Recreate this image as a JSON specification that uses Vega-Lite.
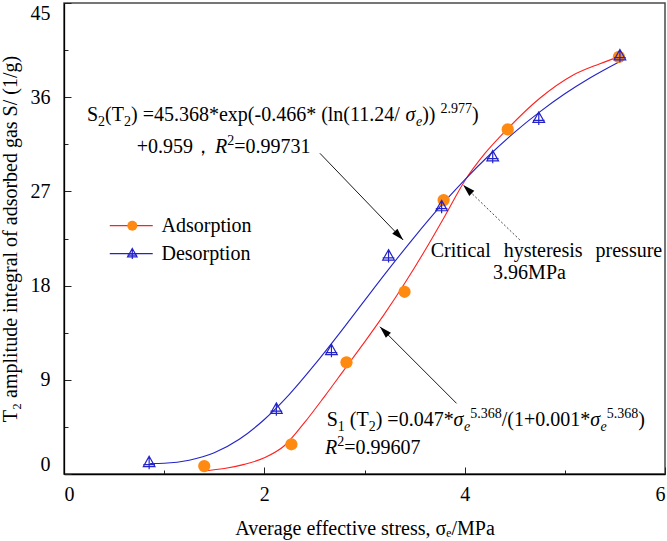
{
  "$schema": "https://vega.github.io/schema/vega-lite/v6.json",
  "width": 601,
  "height": 471,
  "autosize": "none",
  "padding": {"left": 64, "top": 3, "right": 2, "bottom": 67},
  "background": "white",
  "config": {
    "font": "Liberation Serif",
    "view": {"stroke": "#4a4a4a", "strokeWidth": 1.5},
    "axis": {
      "grid": false,
      "domainColor": "#000000",
      "domainWidth": 1.3,
      "tickColor": "#222222",
      "tickWidth": 1,
      "labelFont": "Liberation Serif",
      "labelFontSize": 20,
      "labelColor": "#000000",
      "labelOverlap": false,
      "labelFlush": true,
      "titleFont": "Liberation Serif",
      "titleFontSize": 20,
      "titleFontWeight": "normal",
      "titleColor": "#000000"
    },
    "legend": {
      "labelFont": "Liberation Serif",
      "labelFontSize": 20,
      "labelColor": "#000000",
      "padding": 0,
      "rowPadding": 8
    }
  },
  "datasets": {
    "curves": [
      {"series": "Adsorption", "stress": 1.40, "S": 0.30},
      {"series": "Adsorption", "stress": 1.60, "S": 0.52},
      {"series": "Adsorption", "stress": 1.80, "S": 0.92},
      {"series": "Adsorption", "stress": 2.00, "S": 1.55},
      {"series": "Adsorption", "stress": 2.20, "S": 2.7},
      {"series": "Adsorption", "stress": 2.40, "S": 4.9},
      {"series": "Adsorption", "stress": 2.60, "S": 7.4},
      {"series": "Adsorption", "stress": 2.80, "S": 10.0},
      {"series": "Adsorption", "stress": 3.00, "S": 12.6},
      {"series": "Adsorption", "stress": 3.20, "S": 15.3},
      {"series": "Adsorption", "stress": 3.40, "S": 18.2},
      {"series": "Adsorption", "stress": 3.60, "S": 21.3},
      {"series": "Adsorption", "stress": 3.80, "S": 24.6},
      {"series": "Adsorption", "stress": 4.00, "S": 28.0},
      {"series": "Adsorption", "stress": 4.20, "S": 30.6},
      {"series": "Adsorption", "stress": 4.43, "S": 33.0},
      {"series": "Adsorption", "stress": 4.75, "S": 35.9},
      {"series": "Adsorption", "stress": 5.08, "S": 38.1},
      {"series": "Adsorption", "stress": 5.35, "S": 39.2},
      {"series": "Adsorption", "stress": 5.55, "S": 39.9},
      {"series": "Desorption", "stress": 0.86, "S": 1.00},
      {"series": "Desorption", "stress": 1.00, "S": 1.03},
      {"series": "Desorption", "stress": 1.25, "S": 1.32},
      {"series": "Desorption", "stress": 1.50, "S": 2.03},
      {"series": "Desorption", "stress": 1.75, "S": 3.32},
      {"series": "Desorption", "stress": 2.00, "S": 5.21},
      {"series": "Desorption", "stress": 2.25, "S": 7.61},
      {"series": "Desorption", "stress": 2.50, "S": 10.42},
      {"series": "Desorption", "stress": 2.75, "S": 13.44},
      {"series": "Desorption", "stress": 3.00, "S": 16.57},
      {"series": "Desorption", "stress": 3.25, "S": 19.67},
      {"series": "Desorption", "stress": 3.50, "S": 22.66},
      {"series": "Desorption", "stress": 3.75, "S": 25.49},
      {"series": "Desorption", "stress": 4.00, "S": 28.11},
      {"series": "Desorption", "stress": 4.25, "S": 30.50},
      {"series": "Desorption", "stress": 4.50, "S": 32.67},
      {"series": "Desorption", "stress": 4.75, "S": 34.60},
      {"series": "Desorption", "stress": 5.00, "S": 36.33},
      {"series": "Desorption", "stress": 5.25, "S": 37.84},
      {"series": "Desorption", "stress": 5.55, "S": 39.42}
    ],
    "points": [
      {"series": "Adsorption", "stress": 1.40, "S": 0.76},
      {"series": "Adsorption", "stress": 2.27, "S": 2.84},
      {"series": "Adsorption", "stress": 2.82, "S": 10.67},
      {"series": "Adsorption", "stress": 3.40, "S": 17.41},
      {"series": "Adsorption", "stress": 3.79, "S": 26.17},
      {"series": "Adsorption", "stress": 4.43, "S": 32.92},
      {"series": "Adsorption", "stress": 5.54, "S": 39.86},
      {"series": "Desorption", "stress": 0.85, "S": 1.08},
      {"series": "Desorption", "stress": 2.12, "S": 6.18},
      {"series": "Desorption", "stress": 2.67, "S": 11.78},
      {"series": "Desorption", "stress": 3.24, "S": 20.82},
      {"series": "Desorption", "stress": 3.77, "S": 25.53},
      {"series": "Desorption", "stress": 4.28, "S": 30.30},
      {"series": "Desorption", "stress": 4.74, "S": 33.97},
      {"series": "Desorption", "stress": 5.55, "S": 39.95}
    ],
    "notes": [
      {"t": "S", "kind": "n", "x": 0.2296, "y": 33.73},
      {"t": "2", "kind": "sub", "x": 0.3404, "y": 33.73},
      {"t": "(T", "kind": "n", "x": 0.4103, "y": 33.73},
      {"t": "2", "kind": "sub", "x": 0.5990, "y": 33.73},
      {"t": ") =45.368*exp(-0.466* (ln(11.24/", "kind": "n", "x": 0.6689, "y": 33.73},
      {"t": "σ", "kind": "i", "x": 3.4103, "y": 33.73},
      {"t": "e", "kind": "isub", "x": 3.5141, "y": 33.73},
      {"t": "))", "kind": "n", "x": 3.5760, "y": 33.73},
      {"t": "2.977", "kind": "sup", "x": 3.7587, "y": 33.73},
      {"t": ")", "kind": "n", "x": 4.0732, "y": 33.73},
      {"t": "+0.959，", "kind": "n", "x": 0.7258, "y": 30.67},
      {"t": "R", "kind": "i", "x": 1.5075, "y": 30.67},
      {"t": "2", "kind": "sup", "x": 1.6293, "y": 30.67},
      {"t": "=0.99731", "kind": "n", "x": 1.6992, "y": 30.67},
      {"t": "S", "kind": "n", "x": 2.6226, "y": 4.54},
      {"t": "1", "kind": "sub", "x": 2.7334, "y": 4.54},
      {"t": "(T", "kind": "n", "x": 2.8532, "y": 4.54},
      {"t": "2", "kind": "sub", "x": 3.0419, "y": 4.54},
      {"t": ") =0.047*", "kind": "n", "x": 3.1118, "y": 4.54},
      {"t": "σ", "kind": "i", "x": 3.8895, "y": 4.54},
      {"t": "e", "kind": "isub", "x": 3.9933, "y": 4.54},
      {"t": "5.368", "kind": "sup", "x": 4.0552, "y": 4.54},
      {"t": "/(1+0.001*", "kind": "n", "x": 4.3697, "y": 4.54},
      {"t": "σ", "kind": "i", "x": 5.2532, "y": 4.54},
      {"t": "e", "kind": "isub", "x": 5.3570, "y": 4.54},
      {"t": "5.368", "kind": "sup", "x": 5.4189, "y": 4.54},
      {"t": ")", "kind": "n", "x": 5.7334, "y": 4.54},
      {"t": "R", "kind": "i", "x": 2.6055, "y": 1.91},
      {"t": "2", "kind": "sup", "x": 2.7273, "y": 1.91},
      {"t": "=0.99607", "kind": "n", "x": 2.7972, "y": 1.91},
      {"t": "Critical \u2009\u2009hysteresis \u2009\u2009pressure", "kind": "n", "x": 3.661, "y": 20.73},
      {"t": "3.96MPa", "kind": "n", "x": 4.284, "y": 18.63}
    ],
    "arrows": [
      {"id": "fit2", "x1": 2.555, "y1": 30.64, "x2": 3.386, "y2": 22.36},
      {"id": "fit1", "x1": 3.919, "y1": 6.75, "x2": 3.154, "y2": 14.07},
      {"id": "cross", "x1": 4.551, "y1": 22.36, "x2": 3.985, "y2": 27.61}
    ]
  },
  "layer": [
    {
      "data": {"name": "curves"},
      "mark": {"type": "line", "interpolate": "monotone", "strokeWidth": 1.1},
      "encoding": {
        "x": {
          "field": "stress",
          "type": "quantitative",
          "scale": {"domain": [0, 6], "nice": false},
          "axis": {
            "values": [0, 1, 2, 3, 4, 5, 6],
            "labelExpr": "datum.value % 2 === 0 ? format(datum.value, 'd') : ''",
            "tickSize": {"condition": {"test": "datum.value % 2 === 0", "value": -7}, "value": -4},
            "labelPadding": 17,
            "title": "Average effective stress, σₑ/MPa",
            "titleY": 60,
            "titleBaseline": "alphabetic"
          }
        },
        "y": {
          "field": "S",
          "type": "quantitative",
          "scale": {"domain": [0, 45], "nice": false},
          "axis": {
            "values": [0, 4.5, 9, 13.5, 18, 22.5, 27, 31.5, 36, 40.5, 45],
            "labelExpr": "datum.value % 9 === 0 ? format(datum.value, 'd') : ''",
            "tickSize": {"condition": {"test": "datum.value % 9 === 0", "value": -7}, "value": -4},
            "labelPadding": 21,
            "title": "T₂ amplitude integral of adsorbed gas S/ (1/g)",
            "titleX": -54,
            "titleBaseline": "middle"
          }
        },
        "stroke": {
          "field": "series",
          "type": "nominal",
          "scale": {"range": ["#ff2020", "#2323c8"]},
          "legend": {
            "orient": "none",
            "legendX": 57.25,
            "legendY": 212.7,
            "title": null,
            "symbolType": "M-3,0L3,0",
            "symbolSize": 205,
            "symbolStrokeWidth": 1.2,
            "labelOffset": 20.25,
            "labelColor": "#000000"
          }
        }
      }
    },
    {
      "data": {"name": "points"},
      "mark": {"type": "point", "filled": true, "stroke": "#2323c8", "size": 150, "opacity": 1},
      "encoding": {
        "x": {"field": "stress", "type": "quantitative"},
        "y": {"field": "S", "type": "quantitative"},
        "fill": {
          "field": "series",
          "type": "nominal",
          "scale": {"range": ["#ff8a12", "transparent"]},
          "legend": {
            "orient": "none", "legendX": 58.3, "legendY": 212.7, "title": null,
            "labelColor": "transparent", "labelExpr": "' '",
            "encode": {"symbols": {"update": {"stroke": {"value": "#2323c8"}}}}
          }
        },
        "shape": {
          "field": "series",
          "type": "nominal",
          "scale": {"range": ["circle", "M0,-1.05L0.95,0.65L-0.95,0.65Z M-0.95,0.3L0.95,0.3 M0,-1.05L0,1.05"]},
          "legend": {
            "orient": "none", "legendX": 58.3, "legendY": 212.7, "title": null,
            "labelColor": "transparent", "labelExpr": "' '",
            "encode": {"symbols": {"update": {"stroke": {"value": "#2323c8"}}}}
          }
        },
        "strokeWidth": {
          "field": "series",
          "type": "nominal",
          "scale": {"type": "ordinal", "range": [0, 1.2]},
          "legend": {
            "orient": "none", "legendX": 58.3, "legendY": 212.7, "title": null,
            "labelColor": "transparent", "labelExpr": "' '",
            "encode": {"symbols": {"update": {"stroke": {"value": "#2323c8"}}}}
          }
        }
      }
    },
    {
      "data": {"name": "arrows"},
      "transform": [{"filter": "datum.id !== 'cross'"}],
      "mark": {"type": "rule", "color": "#1a1a1a", "strokeWidth": 1},
      "encoding": {
        "x": {"field": "x1", "type": "quantitative"},
        "y": {"field": "y1", "type": "quantitative"},
        "x2": {"field": "x2"},
        "y2": {"field": "y2"}
      }
    },
    {
      "data": {"name": "arrows"},
      "transform": [{"filter": "datum.id === 'cross'"}],
      "mark": {"type": "rule", "color": "#333333", "strokeWidth": 0.9, "strokeDash": [2, 2]},
      "encoding": {
        "x": {"field": "x1", "type": "quantitative"},
        "y": {"field": "y1", "type": "quantitative"},
        "x2": {"field": "x2"},
        "y2": {"field": "y2"}
      }
    },
    {
      "data": {"name": "arrows"},
      "transform": [{"filter": "datum.id === 'fit2'"}],
      "mark": {"type": "point", "shape": "M0,0L0.6,2L-0.6,2Z", "size": 144, "angle": 136, "filled": true, "color": "#000000", "opacity": 1},
      "encoding": {"x": {"field": "x2", "type": "quantitative"}, "y": {"field": "y2", "type": "quantitative"}}
    },
    {
      "data": {"name": "arrows"},
      "transform": [{"filter": "datum.id === 'fit1'"}],
      "mark": {"type": "point", "shape": "M0,0L0.6,2L-0.6,2Z", "size": 144, "angle": 315, "filled": true, "color": "#000000", "opacity": 1},
      "encoding": {"x": {"field": "x2", "type": "quantitative"}, "y": {"field": "y2", "type": "quantitative"}}
    },
    {
      "data": {"name": "arrows"},
      "transform": [{"filter": "datum.id === 'cross'"}],
      "mark": {"type": "point", "shape": "M0,0L0.6,2L-0.6,2Z", "size": 144, "angle": 314, "filled": true, "color": "#000000", "opacity": 1},
      "encoding": {"x": {"field": "x2", "type": "quantitative"}, "y": {"field": "y2", "type": "quantitative"}}
    },
    {
      "data": {"name": "notes"},
      "transform": [{"filter": "datum.kind === 'n'"}],
      "mark": {"type": "text", "align": "left", "baseline": "alphabetic", "font": "Liberation Serif", "fontSize": 20, "color": "#000000"},
      "encoding": {"x": {"field": "x", "type": "quantitative"}, "y": {"field": "y", "type": "quantitative"}, "text": {"field": "t"}}
    },
    {
      "data": {"name": "notes"},
      "transform": [{"filter": "datum.kind === 'i'"}],
      "mark": {"type": "text", "align": "left", "baseline": "alphabetic", "font": "Liberation Serif", "fontSize": 20, "fontStyle": "italic", "color": "#000000"},
      "encoding": {"x": {"field": "x", "type": "quantitative"}, "y": {"field": "y", "type": "quantitative"}, "text": {"field": "t"}}
    },
    {
      "data": {"name": "notes"},
      "transform": [{"filter": "datum.kind === 'sub'"}],
      "mark": {"type": "text", "align": "left", "baseline": "alphabetic", "font": "Liberation Serif", "fontSize": 14, "dy": 5, "color": "#000000"},
      "encoding": {"x": {"field": "x", "type": "quantitative"}, "y": {"field": "y", "type": "quantitative"}, "text": {"field": "t"}}
    },
    {
      "data": {"name": "notes"},
      "transform": [{"filter": "datum.kind === 'isub'"}],
      "mark": {"type": "text", "align": "left", "baseline": "alphabetic", "font": "Liberation Serif", "fontSize": 14, "fontStyle": "italic", "dy": 5, "color": "#000000"},
      "encoding": {"x": {"field": "x", "type": "quantitative"}, "y": {"field": "y", "type": "quantitative"}, "text": {"field": "t"}}
    },
    {
      "data": {"name": "notes"},
      "transform": [{"filter": "datum.kind === 'sup'"}],
      "mark": {"type": "text", "align": "left", "baseline": "alphabetic", "font": "Liberation Serif", "fontSize": 14, "dy": -8, "color": "#000000"},
      "encoding": {"x": {"field": "x", "type": "quantitative"}, "y": {"field": "y", "type": "quantitative"}, "text": {"field": "t"}}
    }
  ]
}
